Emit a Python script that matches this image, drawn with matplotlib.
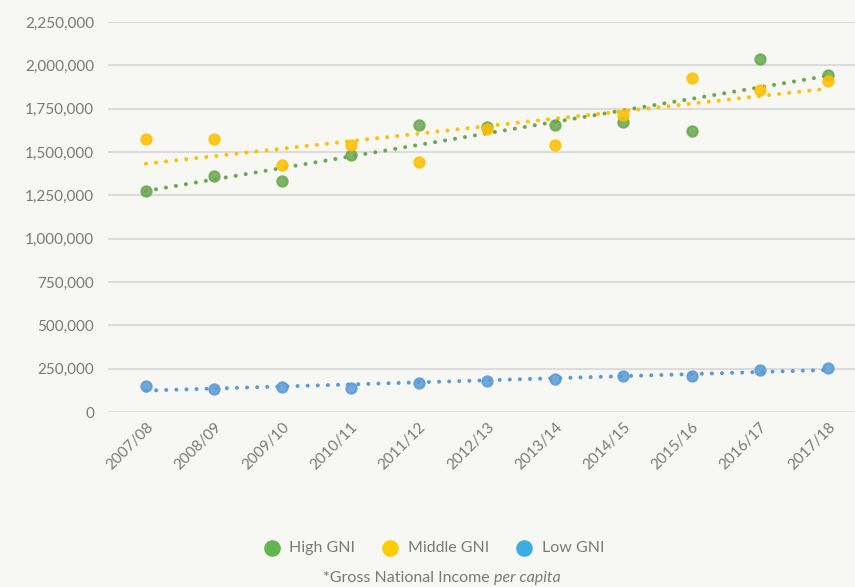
import numpy as np
import matplotlib
matplotlib.use("Agg")
import matplotlib.pyplot as plt

# Data
years = ["2007/08", "2008/09", "2009/10", "2010/11", "2011/12", "2012/13",
         "2013/14", "2014/15", "2015/16", "2016/17", "2017/18"]
high_gni = [1275000, 1361000, 1332000, 1480000, 1657000, 1647000,
            1653000, 1672000, 1624000, 2037000, 1945000]
middle_gni = [1576000, 1576000, 1423000, 1542000, 1442000, 1634000,
              1538000, 1711000, 1928000, 1860000, 1912000]
low_gni = [151000, 132000, 142000, 141000, 169000, 178000,
           188000, 209000, 207000, 242000, 255000]

series = [
    ("High GNI", high_gni, "#6aa84f", "#62b651"),
    ("Middle GNI", middle_gni, "#ffc000", "#ffcc00"),
    ("Low GNI", low_gni, "#5b9bd5", "#3aaee0"),
]

bg = "#f7f7f3"
text_color = "#7a7a7a"
plt.rcParams["font.family"] = ["Lato", "DejaVu Sans"]

fig = plt.figure(figsize=(8.55, 5.87), dpi=100, facecolor=bg)
ax = fig.add_axes([108 / 855, 1 - 412 / 587, 1 - 108 / 855, (412 - 22) / 587])
ax.set_facecolor(bg)

x = np.arange(len(years))
for name, vals, col, legend_col in series:
    vals = np.array(vals)
    slope, icpt = np.polyfit(x, vals, 1)
    ax.plot(x, slope * x + icpt, color=col, lw=2.9,
            linestyle=(0, (0.01, 2.5)), dash_capstyle="round", zorder=3)
    ax.scatter(x, vals, s=55, color=col, edgecolor=col, linewidth=1.5,
               alpha=0.85, zorder=4)
    ax.scatter([], [], s=120, color=legend_col, label=name)

ax.set_xlim(-0.557, 10.396)
ax.set_ylim(0, 2250000)
ax.set_yticks(np.arange(0, 2250001, 250000))
ax.yaxis.set_major_formatter(matplotlib.ticker.FuncFormatter(lambda v, p: f"{int(v):,}"))
ax.set_xticks(x)
ax.set_xticklabels(years, rotation=45, ha="right", rotation_mode="anchor")
ax.tick_params(axis="both", length=0, colors=text_color, labelsize=11)
ax.tick_params(axis="y", pad=10)
ax.tick_params(axis="x", pad=6)
ax.grid(axis="y", color="#dcdcdc", lw=1.5, zorder=0)
for s in ax.spines.values():
    s.set_visible(False)

handles, labels = ax.get_legend_handles_labels()
leg = fig.legend(handles, labels, loc="center", bbox_to_anchor=(430 / 855, 1 - 548 / 587),
                 ncol=3, frameon=False, fontsize=11.5, handletextpad=0.1,
                 columnspacing=1.2, labelcolor=text_color)

t1 = fig.text(494 / 855, 1 - 578 / 587, "*Gross National Income ", ha="right",
              va="center", color=text_color, fontsize=11.5)
fig.canvas.draw()
ax.annotate("per capita", xy=(1, 0), xycoords=t1, ha="left", va="bottom",
            color=text_color, fontsize=11.5, style="italic")

fig.savefig("out.png", dpi=100, facecolor=bg)
